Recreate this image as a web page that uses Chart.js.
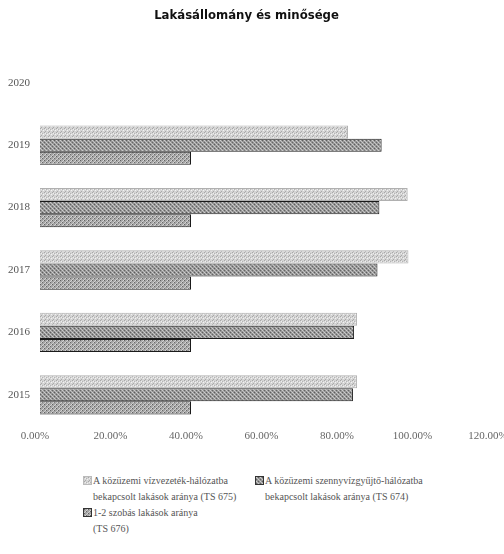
<!DOCTYPE html>
<html>
<head>
<meta charset="utf-8">
<script src="https://cdn.jsdelivr.net/npm/chart.js@4/dist/chart.umd.min.js"></script>
<style>
  html, body { margin: 0; padding: 0; background: #fff; overflow: hidden; }
  #wrap { position: relative; width: 504px; height: 554px; }
  #chartBox { position: absolute; left: 0; top: 0; width: 504px; height: 450px; }
  .legend { position: absolute; font-family: 'Liberation Serif', serif; font-size: 10px; color: #555; line-height: 16px; white-space: nowrap; }
  .legend .mark { position: absolute; left: 0; top: 4px; width: 7px; height: 7px; }
  .legend .txt { position: absolute; left: 9px; top: 0; }
</style>
</head>
<body>
<div id="wrap">
  <div id="chartBox"><canvas id="lakasChart" width="504" height="450"></canvas></div>
  <div class="legend" style="left:84px; top:473px;"><span class="mark" id="m0"></span><span class="txt" id="t0"></span></div>
  <div class="legend" style="left:256px; top:473px;"><span class="mark" id="m1"></span><span class="txt" id="t1"></span></div>
  <div class="legend" style="left:84px; top:505px;"><span class="mark" id="m2"></span><span class="txt" id="t2"></span></div>
</div>
<script>
// Adatok
const evek = ['2020', '2019', '2018', '2017', '2016', '2015'];
const vizvezetekArany = [null, 81.6, 97.4, 97.6, 84.0, 84.0];
const szennyvizArany = [null, 90.5, 89.9, 89.4, 83.2, 82.9];
const szobasArany = [null, 40.0, 40.0, 40.0, 40.0, 40.0];
const sorozatNevek = [
    ['A közüzemi vízvezeték-hálózatba', 'bekapcsolt lakások aránya (TS 675)'],
    ['A közüzemi szennyvízgyűjtő-hálózatba', 'bekapcsolt lakások aránya (TS 674)'],
    ['1-2 szobás lakások aránya', '(TS 676)']
];
const xTicks = [0, 20, 40, 60, 80, 100, 120];

// Kis mintázat (Excel-szerű raszter)
function makeTile(base, dots) {
    const c = document.createElement('canvas');
    c.width = 4; c.height = 4;
    const g = c.getContext('2d');
    g.fillStyle = base;
    g.fillRect(0, 0, 4, 4);
    dots.forEach(d => { g.fillStyle = d[2]; g.fillRect(d[0], d[1], 1, 1); });
    return c;
}

const tiles = [
    makeTile('#d4d4d4', [[0, 0, '#a8a8a8'], [2, 1, '#b4b4b4'], [1, 3, '#aaaaaa'], [3, 2, '#f2f2f2'], [1, 1, '#eeeeee']]),
    makeTile('#969696', [[0, 0, '#cfcfcf'], [1, 1, '#c2c2c2'], [2, 2, '#cccccc'], [3, 3, '#bdbdbd'], [2, 0, '#5e5e5e'], [0, 2, '#666666']]),
    makeTile('#a4a4a4', [[3, 0, '#d6d6d6'], [2, 1, '#cfcfcf'], [1, 2, '#d4d4d4'], [0, 3, '#cbcbcb'], [0, 0, '#626262'], [2, 2, '#6a6a6a']])
];

const ctx = document.getElementById('lakasChart').getContext('2d');
const patterns = tiles.map(t => ctx.createPattern(t, 'repeat'));

// Jelmagyarázat (HTML)
tiles.forEach((t, i) => {
    const m = document.getElementById('m' + i);
    m.style.backgroundImage = 'url(' + t.toDataURL() + ')';
    m.style.outline = i === 0 ? '1px solid #bbb' : '1px solid #333';
    document.getElementById('t' + i).innerHTML = sorozatNevek[i].join('<br>');
});

new Chart(ctx, {
    type: 'bar',
    data: {
        labels: evek,
        datasets: [
            { label: sorozatNevek[0].join(' '), data: vizvezetekArany, backgroundColor: patterns[0], borderColor: '#b0b0b0', borderWidth: 1 },
            { label: sorozatNevek[1].join(' '), data: szennyvizArany, backgroundColor: patterns[1], borderColor: '#1a1a1a', borderWidth: 1 },
            { label: sorozatNevek[2].join(' '), data: szobasArany, backgroundColor: patterns[2], borderColor: '#1a1a1a', borderWidth: 1 }
        ]
    },
    options: {
        indexAxis: 'y',
        responsive: false,
        animation: false,
        categoryPercentage: 0.63,
        barPercentage: 1.0,
        layout: { padding: { left: 0, right: 11, top: 0, bottom: 0 } },
        plugins: {
            legend: { display: false },
            tooltip: { enabled: false },
            title: {
                display: true,
                text: 'Lakásállomány és minősége',
                color: '#111',
                font: { family: "'DejaVu Sans Condensed', 'Roboto', sans-serif", size: 13, weight: 'bold' },
                padding: { top: 8, bottom: 28 }
            }
        },
        scales: {
            x: {
                min: 0,
                max: 120,
                afterBuildTicks: function(scale) {
                    scale.ticks = xTicks.map(v => ({ value: v }));
                },
                afterFit: function(scale) {
                    scale.paddingLeft = 0;
                    scale.paddingRight = 0;
                    scale.height = 24;
                },
                grid: { display: false, drawTicks: false },
                border: { display: false },
                ticks: {
                    padding: 4,
                    labelOffset: -5,
                    color: '#666',
                    font: { family: "'Liberation Serif', serif", size: 11 },
                    callback: v => v.toFixed(2) + '%'
                }
            },
            y: {
                afterFit: function(scale) {
                    scale.width = 40;
                    scale.paddingTop = 0;
                    scale.paddingBottom = 0;
                },
                grid: { display: false, drawTicks: false },
                border: { display: false },
                ticks: {
                    padding: 10,
                    color: '#555',
                    font: { family: "'Liberation Serif', serif", size: 11 }
                }
            }
        }
    }
});
</script>
</body>
</html>
